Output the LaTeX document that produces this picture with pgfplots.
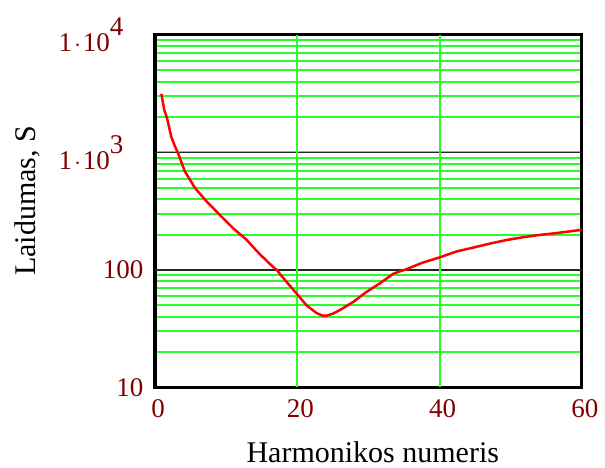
\documentclass[border=0pt]{standalone}
\usepackage{fontspec}
\setmainfont{Liberation Serif}
\usepackage{pgfplots}
\pgfplotsset{compat=1.18}
\definecolor{tickred}{RGB}{128,0,0}
\definecolor{gridgreen}{RGB}{40,255,40}
\begin{document}
\begin{tikzpicture}
\path[use as bounding box] (0,0) rectangle (605pt,468pt);
\begin{axis}[
  at={(155pt,80.5pt)}, anchor=south west,
  scale only axis, width=427pt, height=352.5pt,
  xmin=0, xmax=60, ymin=10, ymax=10000,
  ymode=log,
  axis line style={line width=3pt, black},
  xtick={0,20,40,60}, xticklabels={0,20,40,60},
  ytick={10,100,1000,10000},
  yticklabels={10,100,{1\kern2pt$\cdot$\kern2pt10\raisebox{16pt}{3}\kern20pt},{1\kern2pt$\cdot$\kern2pt10\raisebox{16pt}{4}\kern20pt}},
  major tick length=0pt, minor tick length=0pt,
  xmajorgrids=false, ymajorgrids=true, yminorgrids=true,
  grid style={gridgreen, line width=2pt},
  major grid style={gridgreen, line width=2pt},
  minor grid style={gridgreen, line width=2pt},
  extra y ticks={100,1000},
  extra y tick labels={},
  extra y tick style={major grid style={black!85, line width=1.2pt}},
  tick label style={font=\fontsize{27}{30}\selectfont, text=tickred},
  xticklabel style={yshift=-9pt, xshift=3pt},
  yticklabel style={xshift=-8pt},
  label style={font=\fontsize{30}{34}\selectfont},
  xlabel={Harmonikos numeris},
  ylabel={Laidumas, S},
  xlabel style={at={(axis description cs:0.51,-0.214)}, anchor=base},
  ylabel style={at={(axis description cs:-0.281,0.53)}, anchor=base, rotate=0},
]
\addplot[gridgreen, line width=1.8pt, forget plot] coordinates {(20,10) (20,10000)};
\addplot[gridgreen, line width=1.8pt, forget plot] coordinates {(40,10) (40,10000)};
\addplot[red, line width=2.5pt] coordinates {
(0.9,3150) (1.3,2300) (1.7,1950) (2.3,1350) (2.8,1130) (3.2,1000) (4.2,690)
(5.6,500) (7.3,380) (9.1,295) (11.0,226) (12.9,180) (14.0,152) (14.8,135)
(15.8,118) (16.6,106) (17.1,100) (18.5,79) (19.9,63) (21.3,50) (22.7,43)
(23.5,41) (24.1,40.8) (25.0,42.5) (26.0,45.7) (27.9,53.7) (29.7,65)
(31.6,77) (33.5,93) (35.4,102) (37.7,116) (40.0,128) (42.4,144) (44.7,155)
(47.1,168) (49.4,180) (51.7,190) (54.1,199) (56.4,206) (58.0,212) (60.0,220)
};
\end{axis}
\end{tikzpicture}
\end{document}
